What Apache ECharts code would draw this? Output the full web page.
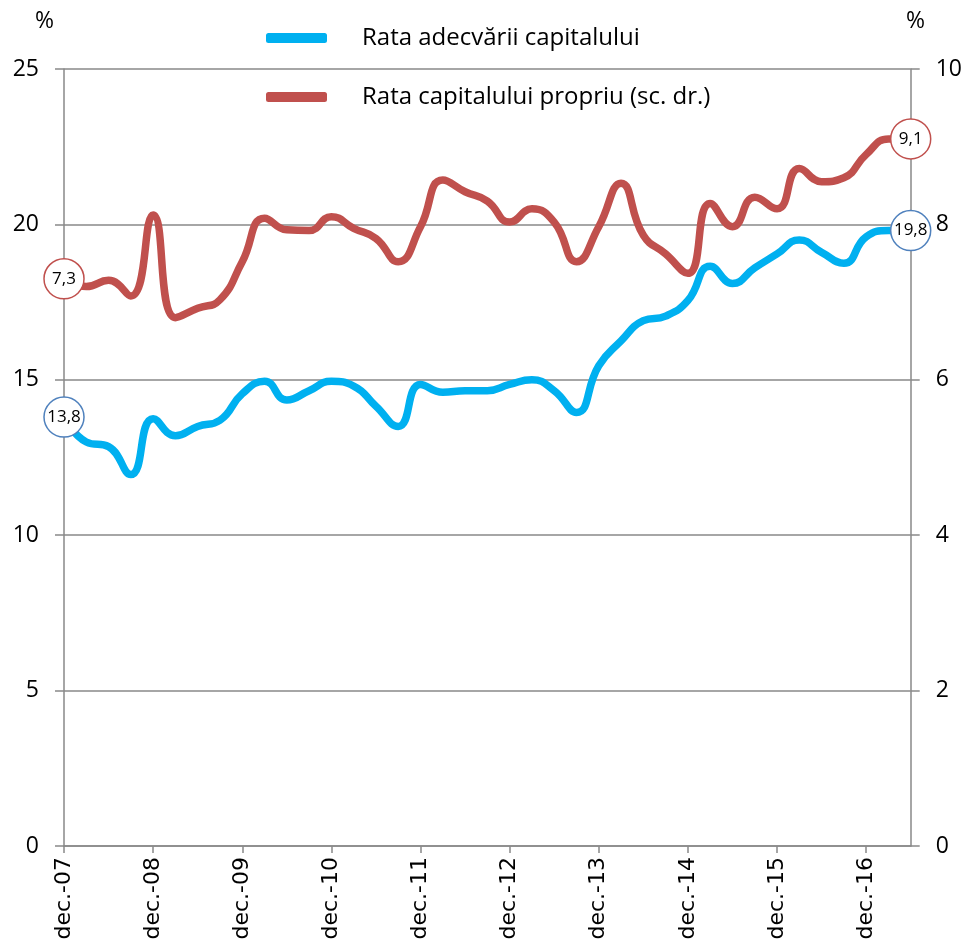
<!DOCTYPE html>
<html>
<head>
<meta charset="utf-8">
<script src="https://cdn.jsdelivr.net/npm/echarts@6/dist/echarts.min.js"></script>
<style>
  html, body { margin: 0; padding: 0; background: #fff; }
  #main { width: 965px; height: 944px; }
</style>
</head>
<body>
<div id="main"></div>
<script>
// trimestre, dec.-07 ... iun.-17
var categories = [
  'dec.-07', 'mar.-08', 'iun.-08', 'sep.-08',
  'dec.-08', 'mar.-09', 'iun.-09', 'sep.-09',
  'dec.-09', 'mar.-10', 'iun.-10', 'sep.-10',
  'dec.-10', 'mar.-11', 'iun.-11', 'sep.-11',
  'dec.-11', 'mar.-12', 'iun.-12', 'sep.-12',
  'dec.-12', 'mar.-13', 'iun.-13', 'sep.-13',
  'dec.-13', 'mar.-14', 'iun.-14', 'sep.-14',
  'dec.-14', 'mar.-15', 'iun.-15', 'sep.-15',
  'dec.-15', 'mar.-16', 'iun.-16', 'sep.-16',
  'dec.-16', 'mar.-17', 'iun.-17'
];

var adecvare = [
  13.8, 13.0, 12.85, 11.95,
  13.75, 13.2, 13.5, 13.7,
  14.55, 14.95, 14.35, 14.65,
  14.95, 14.8, 14.15, 13.5,
  14.85, 14.6, 14.65, 14.65,
  14.85, 15.0, 14.65, 13.95,
  15.45, 16.25, 16.9, 17.05,
  17.55, 18.65, 18.1, 18.6,
  19.05, 19.5, 19.1, 18.75,
  19.6, 19.8, 19.8
];

var capitalPropriu = [
  7.3, 7.2, 7.28, 7.08,
  8.12, 6.8, 6.92, 7.03,
  7.52, 8.08, 7.93, 7.92,
  8.1, 7.95, 7.82, 7.52,
  7.97, 8.57, 8.42, 8.3,
  8.03, 8.2, 8.03, 7.52,
  7.97, 8.53, 7.86, 7.62,
  7.37, 8.27, 7.97, 8.35,
  8.2, 8.72, 8.55, 8.6,
  8.9, 9.1, 9.1
];

var leftTicks = { min: 0, max: 25, interval: 5 };
var rightTicks = { min: 0, max: 10, interval: 2 };

var chart = echarts.init(document.getElementById('main'));

function fmt(v) {
  return v.toFixed(1).replace('.', ',');
}

// cercurile cu valori la capete
function endPoints(values, border) {
  var last = values.length - 1;
  return {
    symbol: 'circle',
    symbolSize: 40,
    itemStyle: { color: '#fff', borderColor: border, borderWidth: 1.5 },
    label: {
      show: true,
      position: 'inside',
      color: '#000',
      fontSize: 17,
      fontFamily: 'Open Sans',
      formatter: function (p) { return fmt(p.value); }
    },
    data: [
      { coord: [categories[0], values[0]], value: values[0] },
      { coord: [categories[last], values[last]], value: values[last] }
    ]
  };
}

var axisGray = '#898989';

var option = {
  animation: false,
  grid: { left: 64, right: 53, top: 69, bottom: 98 },
  legend: {
    orient: 'vertical',
    left: 261,
    top: 21,
    itemGap: 35,
    itemWidth: 61,
    itemHeight: 10,
    icon: 'roundRect',
    textStyle: {
      fontSize: 24,
      fontFamily: 'Open Sans',
      color: '#000',
      padding: [0, 0, 0, 30]
    },
    data: ['Rata adecvării capitalului', 'Rata capitalului propriu (sc. dr.)']
  },
  graphic: [
    { type: 'text', left: 35, top: 10, style: { text: '%', fontSize: 23, fontFamily: 'Open Sans', fill: '#000' } },
    { type: 'text', left: 906, top: 10, style: { text: '%', fontSize: 23, fontFamily: 'Open Sans', fill: '#000' } }
  ],
  xAxis: {
    type: 'category',
    boundaryGap: false,
    data: categories,
    axisLine: { lineStyle: { color: axisGray, width: 1.5 } },
    axisTick: { interval: 3, length: 7, lineStyle: { color: axisGray, width: 1.5 } },
    axisLabel: {
      interval: 3,
      rotate: 90,
      margin: 11,
      fontSize: 22,
      fontFamily: 'DejaVu Sans',
      color: '#000'
    },
    splitLine: { show: false }
  },
  yAxis: [
    {
      type: 'value',
      min: leftTicks.min,
      max: leftTicks.max,
      interval: leftTicks.interval,
      axisLine: { show: true, lineStyle: { color: axisGray, width: 1.5 } },
      axisTick: { show: true, length: 9, lineStyle: { color: axisGray, width: 1.5 } },
      axisLabel: { fontSize: 23, fontFamily: 'Open Sans', color: '#000', margin: 25 },
      splitLine: { lineStyle: { color: axisGray, width: 1.5 } }
    },
    {
      type: 'value',
      min: rightTicks.min,
      max: rightTicks.max,
      interval: rightTicks.interval,
      position: 'right',
      axisLine: { show: true, lineStyle: { color: axisGray, width: 1.5 } },
      axisTick: { show: true, length: 9, lineStyle: { color: axisGray, width: 1.5 } },
      axisLabel: { fontSize: 23, fontFamily: 'Open Sans', color: '#000', margin: 25 },
      splitLine: { show: false }
    }
  ],
  series: [
    {
      name: 'Rata adecvării capitalului',
      type: 'line',
      data: adecvare,
      smooth: 0.5,
      showSymbol: false,
      color: '#00B0F0',
      lineStyle: { width: 7.5, color: '#00B0F0', cap: 'round' },
      markPoint: endPoints(adecvare, '#4F81BD'),
      z: 3
    },
    {
      name: 'Rata capitalului propriu (sc. dr.)',
      type: 'line',
      yAxisIndex: 1,
      data: capitalPropriu,
      smooth: 0.5,
      showSymbol: false,
      color: '#C0504D',
      lineStyle: { width: 7.5, color: '#C0504D', cap: 'round' },
      markPoint: endPoints(capitalPropriu, '#C0504D'),
      z: 2
    }
  ]
};

chart.setOption(option);
</script>
</body>
</html>
